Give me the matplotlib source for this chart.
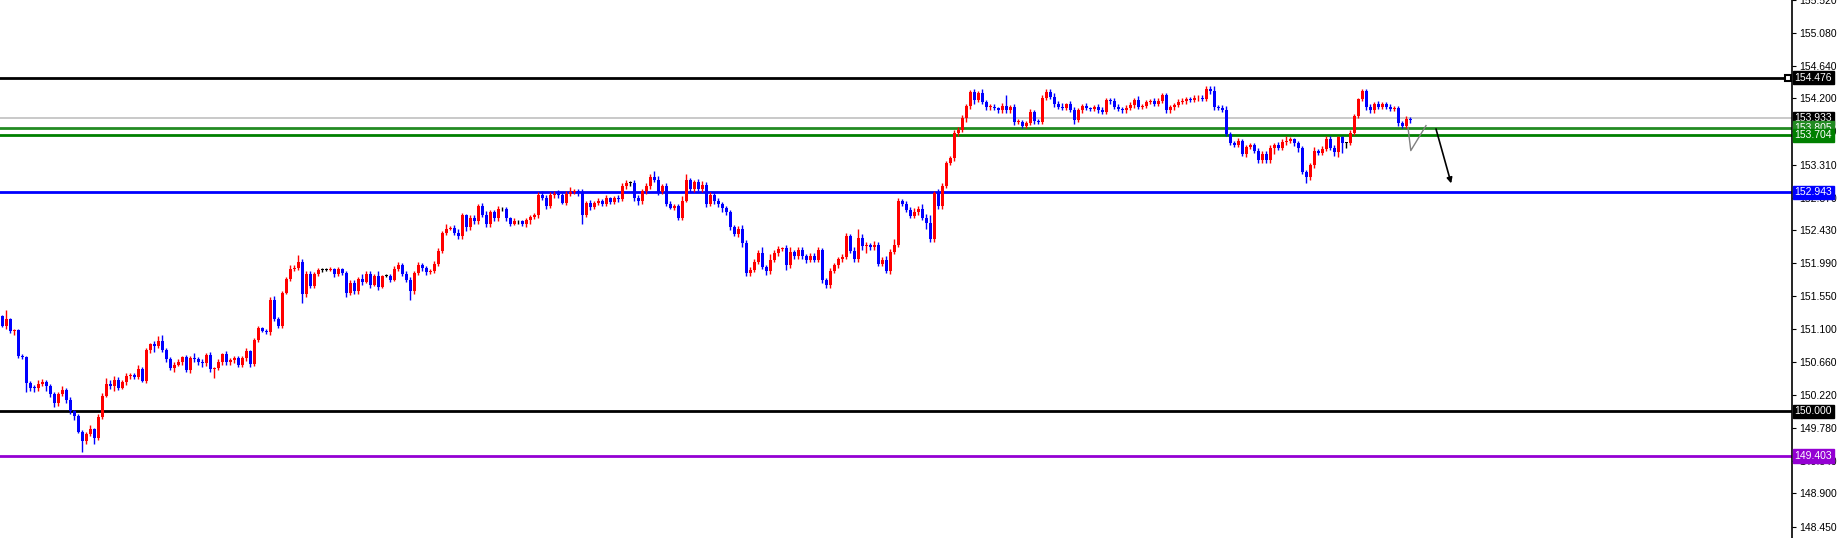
import matplotlib
matplotlib.use("Agg")
import matplotlib.pyplot as plt
import matplotlib.transforms as mtransforms
import numpy as np

closes = [
151.15,151.24,151.08,151.09,150.75,150.73,150.38,150.32,150.31,150.37,
150.40,150.34,150.23,150.11,150.23,150.29,150.16,150.00,149.94,149.73,
149.61,149.70,149.76,149.65,149.93,150.21,150.37,150.34,150.42,150.32,
150.39,150.47,150.49,150.46,150.57,150.41,150.82,150.90,150.88,150.95,
150.83,150.71,150.58,150.63,150.67,150.73,150.56,150.72,150.70,150.67,
150.65,150.76,150.57,150.58,150.66,150.77,150.66,150.69,150.72,150.63,
150.72,150.81,150.64,150.96,151.12,151.08,151.07,151.50,151.24,151.15,
151.59,151.78,151.91,151.93,152.01,151.58,151.85,151.69,151.84,151.90,
151.90,151.90,151.91,151.84,151.91,151.86,151.59,151.73,151.61,151.78,
151.74,151.85,151.70,151.82,151.67,151.82,151.82,151.77,151.91,151.96,
151.85,151.77,151.62,151.86,151.97,151.92,151.87,151.89,151.98,152.15,
152.40,152.45,152.46,152.39,152.35,152.63,152.47,152.60,152.55,152.76,
152.64,152.51,152.67,152.59,152.71,152.71,152.59,152.52,152.55,152.55,
152.51,152.57,152.61,152.63,152.90,152.87,152.75,152.90,152.92,152.90,
152.80,152.92,152.95,152.96,152.93,152.64,152.80,152.74,152.80,152.83,
152.79,152.86,152.81,152.86,152.85,153.02,153.06,153.06,152.87,152.82,
152.96,153.02,153.14,153.11,152.95,153.02,152.79,152.73,152.75,152.60,
152.83,153.10,152.98,153.08,152.99,153.04,152.79,152.90,152.83,152.78,
152.73,152.67,152.47,152.38,152.45,152.26,151.86,151.90,152.01,152.13,
151.94,151.89,152.03,152.12,152.18,152.19,151.96,152.14,152.08,152.17,
152.08,152.03,152.09,152.03,152.16,151.76,151.70,151.89,151.96,152.04,
152.07,152.35,152.15,152.04,152.33,152.22,152.23,152.20,152.23,151.98,
152.03,151.89,152.14,152.24,152.82,152.79,152.70,152.62,152.68,152.71,
152.60,152.53,152.31,152.93,152.75,153.03,153.33,153.40,153.74,153.78,
153.94,154.10,154.29,154.18,154.27,154.15,154.08,154.09,154.07,154.04,
154.10,154.04,154.09,153.88,153.89,153.83,153.87,154.02,153.90,153.89,
154.21,154.29,154.22,154.12,154.09,154.07,154.12,154.05,153.91,154.04,
154.10,154.07,154.06,154.09,154.04,154.02,154.18,154.16,154.09,154.06,
154.04,154.07,154.11,154.18,154.09,154.10,154.15,154.16,154.13,154.17,
154.24,154.04,154.09,154.11,154.15,154.16,154.19,154.18,154.20,154.21,
154.19,154.33,154.30,154.08,154.07,154.05,153.72,153.60,153.58,153.63,
153.46,153.55,153.57,153.50,153.37,153.46,153.37,153.54,153.58,153.54,
153.62,153.63,153.65,153.60,153.53,153.21,153.14,153.30,153.50,153.47,
153.52,153.66,153.54,153.48,153.68,153.60,153.60,153.74,153.97,154.19,
154.30,154.09,154.04,154.12,154.09,154.12,154.09,154.06,154.07,153.87,
153.83,153.92,153.91]
first_open = 151.28

# wick lengths in hundredths of a yen
upper_wick = [
2,12,2,1,1,2,2,3,4,5, 4,2,3,3,3,5,2,4,2,3, 2,3,6,2,3,4,8,5,6,4,
3,4,2,3,6,3,3,2,4,6, 8,2,2,3,3,2,3,3,6,3, 3,2,4,2,4,2,4,3,2,2,
3,4,2,3,3,1,3,4,5,3, 2,3,5,3,9,4,4,3,3,3, 2,3,3,2,3,2,3,3,4,2,
6,4,3,2,7,1,2,3,4,5, 3,4,3,2,3,2,3,2,4,4, 2,7,3,4,6,3,2,4,3,3,
4,5,3,3,4,3,3,2,4,2, 2,3,2,3,4,6,3,4,4,5, 3,4,6,3,3,5,2,4,3,4,
2,4,2,3,4,4,5,3,4,4, 3,4,5,8,5,3,5,4,4,4, 6,8,3,3,4,5,4,4,3,3,
3,3,3,3,4,5,4,4,4,4, 7,3,8,4,4,2,5,6,3,4, 4,3,4,3,4,3,3,3,3,3,
4,5,3,5,12,5,4,3,6,4, 4,5,4,8,4,3,4,4,5,5, 7,5,10,3,5,3,3,3,4,4,
4,3,2,3,3,5,3,3,4,2, 4,15,2,3,4,2,3,4,3,3, 3,3,4,5,4,5,2,4,3,3,
3,4,2,2,3,4,3,3,4,3, 3,4,4,3,5,3,3,3,5,4, 3,3,2,3,4,5,3,3,4,3,
3,4,3,6,3,4,5,3,3,4, 3,2,3,3,4,4,3,3,2,3, 3,6,3,2,3,3,3,4,5,2,
4,3,3,3,2,2,2,3,2,2, 3,3,3,3,4,3,3,3,3,3, 3,4,3,4,3,3,3,3,3,3,
3,4,3,3,3,3,3,5,3,4, 3,3,3,3,3,3,3,3,3,3, 3,3,3,4,2,3,3,2,3,3,
2,3,3,3,3,3,3,2,2,3, 2,4,3]
lower_wick = [
2,5,3,6,3,2,12,4,5,3, 3,6,3,5,3,2,4,3,5,2, 15,4,3,8,3,3,2,4,7,3,
2,3,4,2,3,2,3,4,8,3, 3,4,3,5,2,4,3,4,3,4, 5,4,4,12,3,4,3,3,4,3,
3,4,4,3,3,2,3,5,3,3, 3,2,3,2,3,13,4,4,3,2, 3,2,2,3,2,3,5,3,4,3,
4,2,4,2,4,2,2,3,2,3, 3,3,13,4,3,3,4,3,3,3, 3,3,2,2,3,4,5,4,3,3,
3,4,4,3,3,2,3,3,2,3, 2,3,5,3,3,3,3,2,3,3, 2,3,3,3,4,13,3,4,3,3,
3,3,3,3,4,3,3,3,4,5, 3,4,3,3,5,3,4,2,3,3, 3,2,4,3,3,4,5,3,4,4,
5,3,4,3,4,5,4,4,3,3, 3,6,4,3,3,3,6,4,3,3, 3,4,3,3,3,4,5,4,3,3,
3,3,3,3,3,6,10,3,3,3, 3,3,4,3,3,4,3,3,3,4, 3,8,3,3,3,4,3,3,4,4,
3,5,4,6,3,3,3,3,3,3, 4,3,3,4,3,3,3,3,4,3, 3,3,3,3,3,3,3,3,5,3,
3,3,3,3,3,3,3,3,3,3, 3,4,3,4,3,3,3,3,3,3, 3,3,3,4,3,3,4,3,3,3,
3,3,4,3,3,3,3,3,3,3, 3,4,3,3,3,4,3,3,8,3, 3,4,3,4,5,3,8,3,3,3,
3,3,3,5,7,13,6,3,3,3, 3,4,3,3,3,3,3,3,3,4, 3,3,4,3,3,3,3,4,3,3,
3,3,3,3,3,18,3,3,3,3, 3,3,3,3,3,3,3,3,3,3, 3,3,3,3,4,3,3,3,3,3,
3,3,3,3,3,3,3,3,3,5, 3,3,3]

level_prices = [154.476, 153.933, 153.805, 153.704, 152.943, 150.000, 149.403]
level_labels = ["154.476", "153.933", "153.805", "153.704", "152.943", "150.000", "149.403"]
level_colors = ["#000000", "#c0c0c0", "#228b22", "#008000", "#0000ff", "#000000", "#9400d3"]
level_boxes = ["#000000", "#000000", "#228b22", "#008000", "#0000ff", "#000000", "#9400d3"]

tick_values = [155.520, 155.080, 154.640, 154.200, 153.760, 153.310, 152.870, 152.430,
               151.990, 151.550, 151.100, 150.660, 150.220, 149.780, 149.340, 148.900, 148.450]

# hand-drawn projection lines (index, price)
path_x = [351.5, 352.2, 356.0]
path_y = [153.81, 153.50, 153.835]
arrow_x = [358.5, 362.3]
arrow_y = [153.79, 153.06]

n = len(closes)
closes = np.array(closes)
opens = np.concatenate([[first_open], closes[:-1]])
uw = np.array(upper_wick[:n]) / 100.0
lw = np.array(lower_wick[:n]) / 100.0
highs = np.maximum(opens, closes) + uw
lows = np.minimum(opens, closes) - lw
x = np.arange(n)

FONT = ["Liberation Sans", "DejaVu Sans"]

fig = plt.figure(figsize=(18.38, 5.38), dpi=100)
ax = fig.add_axes([0, 0, 1792/1838, 1])
ax.set_xlim(-0.5, 447.5)
ax.set_ylim(148.303, 155.509)

colors = np.where(closes > opens + 1e-9, "#ff0000",
                  np.where(closes < opens - 1e-9, "#0000ff", "#000000"))

for lp, lc in zip(level_prices, level_colors):
    ax.axhline(lp, color=lc, lw=1.2 if lc == "#c0c0c0" else 2, zorder=1)

ax.vlines(x, lows, highs, colors=colors, lw=1, zorder=2)
body_h = np.abs(closes - opens)
body_h = np.maximum(body_h, 0.012)
ax.bar(x, body_h, bottom=np.minimum(opens, closes), width=0.75, color=colors,
       linewidth=0, zorder=3)

ax.plot(path_x, path_y, color="#808080", lw=1, zorder=4)
ax.annotate("", xy=(arrow_x[1], arrow_y[1]), xytext=(arrow_x[0], arrow_y[0]),
            arrowprops=dict(arrowstyle="-|>", color="#000000", lw=1.2,
                            mutation_scale=8, shrinkA=0, shrinkB=0), zorder=4)
ax.plot([446.6], [level_prices[0]], marker="s", ms=5, mfc="white", mec="black",
        mew=1.5, zorder=5, clip_on=False)

for sp in ["top", "left", "bottom"]:
    ax.spines[sp].set_visible(False)
ax.spines["right"].set_linewidth(1.2)
ax.set_xticks([])
ax.yaxis.tick_right()
ax.set_yticks(tick_values)
ax.set_yticklabels([f"{v:.3f}" for v in tick_values], fontsize=7.5, family=FONT)
ax.tick_params(axis="y", direction="out", length=3, pad=2, colors="black")

trans = mtransforms.blended_transform_factory(ax.transAxes, ax.transData)
for lp, lt, bc in zip(level_prices, level_labels, level_boxes):
    ax.text(1.0015, lp, lt, transform=trans, fontsize=7.5, color="white", family=FONT,
            va="center", ha="left", zorder=10, clip_on=False,
            bbox=dict(boxstyle="square,pad=0.15", fc=bc, ec=bc))

fig.savefig("out.png", dpi=100, facecolor="white")
